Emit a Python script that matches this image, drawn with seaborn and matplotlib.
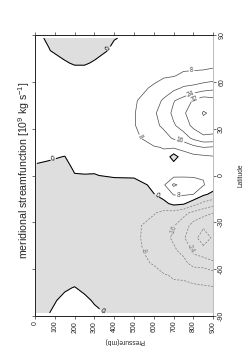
import numpy as np
import matplotlib
matplotlib.use("Agg")
import matplotlib.pyplot as plt
import seaborn as sns

# ---------------- data ----------------
latitudes = [-88, -80, -72, -64, -56, -48, -40, -32, -24, -18, -12, -6, 0,
             6, 12, 18, 24, 32, 40, 48, 56, 64, 72, 80, 88]
pressures = [10, 70, 150, 200, 250, 300, 400, 500, 600, 650, 700, 750, 800, 850, 900]

# streamfunction (10^9 kg/s) at each pressure level, across the latitudes above
psi_p010 = [-0.5, -0.8, -1, -1, -1, -1, -1, -1, -1, -1, -1, -1, -0.6, -0.2, 0.5, 1, 1, 1, 1, 1, 0.8, 0.6, 0.5, 0.4, 0.4]
psi_p070 = [-0.1, -1, -2, -2, -2, -2, -2, -2, -2, -2, -2, -2, -1.5, -0.7, 0.5, 2, 2, 2, 2, 2, 1.5, 1, 0.5, 0.1, -0.3]
psi_p150 = [2, 1, -0.5, -2, -3, -3, -3, -3, -3, -3, -3, -3, -2.5, -1.5, -0.1, 1.5, 2.5, 3, 3, 3, 2.5, 1.5, 0.3, -1, -1.5]
psi_p200 = [2.5, 1.5, 0.2, -2, -3.5, -4, -4, -4, -4, -3.5, -3, -2, -0.3, 1, 2, 3, 3.5, 4, 4, 3.5, 3, 1.5, -0.3, -1.5, -2]
psi_p250 = [2, 1, -1, -3, -4, -4.5, -4.5, -4.5, -4.5, -4, -3.5, -2.5, -0.2, 1.2, 2.5, 3.5, 4, 4.5, 4.5, 4, 3, 1.5, -0.3, -1.5, -2]
psi_p300 = [1, -0.5, -2, -3.5, -4.5, -5, -5, -5, -5, -4.5, -4, -3, -0.3, 1.3, 3, 4, 4.5, 5, 5, 4.5, 3.5, 2, 0.3, -1, -1.5]
psi_p400 = [-1, -2, -3, -4, -5, -5.5, -5.5, -5.5, -5.5, -5, -4.5, -3.5, 1, 2, 3.5, 4.5, 5, 5.5, 5.5, 5, 4, 3, 1.5, 0.5, -0.1]
psi_p500 = [-2, -3, -4, -5, -6, -6.5, -6.5, -6.5, -6.5, -6, -5, -4, 1.5, 3, 4.5, 5.5, 6.5, 7.5, 7.5, 7, 5.5, 4, 2.5, 1.5, 0.5]
psi_p600 = [-3, -4, -5, -6, -8.5, -10, -11, -10.5, -7.5, -4, -0.2, 2, 3.5, 4.5, 6, 7.5, 11, 14, 15, 13, 9, 6, 3, 1.5, 0.5]
psi_p650 = [-3.5, -4.5, -6, -7.5, -11, -13, -14, -13, -10, -2, 3, 7, 6, 5, 6.5, 8.3, 13, 17.5, 19, 17, 12, 7, 4, 2, 0.5]
psi_p700 = [-4, -5, -7, -8.5, -12.5, -15, -17, -15.5, -11, 2, 8.5, 17.5, 6, 4, -4, 9, 17, 23, 26, 23.5, 14, 7.5, 4.5, 2, 0.5]
psi_p750 = [-4.5, -5.5, -6.5, -9, -14, -18, -23, -20, -14, 1, 9, 13, 7, 5, 5, 10, 20, 28, 31, 27, 17, 9.5, 5, 2.5, 0.5]
psi_p800 = [-4.5, -5.5, -7, -10, -19, -26, -30, -27, -18, -5, 8, 10, 7.5, 5.5, 6, 13.5, 26, 34, 36, 33, 18, 10, 5, 2.5, 0.5]
psi_p850 = [-4.5, -5.5, -7, -11.5, -19, -30, -35, -31, -21, -10, 1.5, 8.5, 7.5, 6, 6.5, 16, 30, 38, 40.5, 37, 20, 10.5, 5, 2.5, 0.5]
psi_p900 = [-4, -5.5, -7.5, -12, -23, -29, -31, -30, -24, -13, -2, 4, 5, 6, 7.5, 15, 30, 36, 39, 35, 22, 11, 6, 3, 1]

pos_levels = [8, 16, 24, 32, 40]
neg_levels = [-32, -24, -16, -8]
pressure_ticks = [0, 100, 200, 300, 400, 500, 600, 700, 800, 900]
latitude_ticks = [-90, -60, -30, 0, 30, 60, 90]
title = r"meridional streamfunction [10$^{9}$ kg s$^{-1}$]"

# where the contour labels sit (pressure, latitude)
pos_label_xy = [(791, 66.7), (518, 23.9), (732, 22.8), (783, 52.8), (808, 48.5), (724, -13.6)]
neg_label_xy = [(539, -49), (699, -35), (766, -48)]
zero_label_xy = [(365, 81.8), (92, 10.4), (337, -86.5), (606, -14.7)]

# ---------------- plotting ----------------
sns.set_style("ticks")
plt.rcParams['font.family'] = ['Liberation Sans', 'DejaVu Sans']
plt.rcParams['mathtext.fontset'] = 'custom'
plt.rcParams['mathtext.rm'] = 'Liberation Sans'
plt.rcParams['mathtext.it'] = 'Liberation Sans:italic'

psi = np.array([psi_p010, psi_p070, psi_p150, psi_p200, psi_p250, psi_p300, psi_p400,
                psi_p500, psi_p600, psi_p650, psi_p700, psi_p750, psi_p800, psi_p850, psi_p900])
P, L = np.meshgrid(pressures, latitudes)
Z = psi.T

fig = plt.figure(figsize=(2.49, 3.52), dpi=100)
ax = fig.add_axes([35 / 249, 36 / 352, 178.3 / 249, 281 / 352])

ax.contourf(P, L, Z, levels=[-1000, 0], colors=['#dedede'])
cneg = ax.contour(P, L, Z, levels=neg_levels, colors='#7a7a7a', linewidths=0.5,
                  linestyles=[(0, (3, 2))] * len(neg_levels))
cpos = ax.contour(P, L, Z, levels=pos_levels, colors='#4a4a4a', linewidths=0.5,
                  linestyles='solid')
czero = ax.contour(P, L, Z, levels=[0], colors='black', linewidths=0.75)

ax.clabel(cpos, fmt='%d', fontsize=4.8, inline=True, inline_spacing=1, manual=pos_label_xy)
ax.clabel(cneg, fmt='%d', fontsize=4.8, inline=True, inline_spacing=1, manual=neg_label_xy)
ax.clabel(czero, fmt='%d', fontsize=4.8, inline=True, inline_spacing=1, manual=zero_label_xy)

ax.set_xlim(0, 900)
ax.set_ylim(-90, 90)
ax.set_xticks(pressure_ticks)
ax.set_yticks(latitude_ticks)
ax.set_xticklabels([str(v) for v in pressure_ticks])
ax.set_yticklabels([str(v) for v in latitude_ticks])
ax.tick_params(axis='x', bottom=True, top=True, labelbottom=True, labeltop=False,
               direction='out', length=2, width=0.5, labelsize=5, labelrotation=90,
               pad=1.5, color='#333333')
ax.tick_params(axis='y', left=True, right=True, labelleft=False, labelright=True,
               direction='out', length=2, width=0.5, labelsize=5, labelrotation=90,
               pad=1.5, color='#333333')
for lab in ax.get_yticklabels():
    lab.set_verticalalignment('center')

for side in ['left', 'top', 'bottom']:
    ax.spines[side].set_color('#222222')
    ax.spines[side].set_linewidth(0.7)
ax.spines['right'].set_color('#bbbbbb')
ax.spines['right'].set_linewidth(0.7)

ax.set_xlabel('Pressure(mb)', rotation=180, fontsize=4.8, labelpad=3)
ax.yaxis.set_label_position('right')
ax.set_ylabel('Latitude', rotation=90, fontsize=4.8, labelpad=9)

fig.text(24 / 249, 1 - 170 / 352, title, rotation=90, ha='center', va='center', fontsize=7.6)

fig.savefig('out.png', dpi=100)
